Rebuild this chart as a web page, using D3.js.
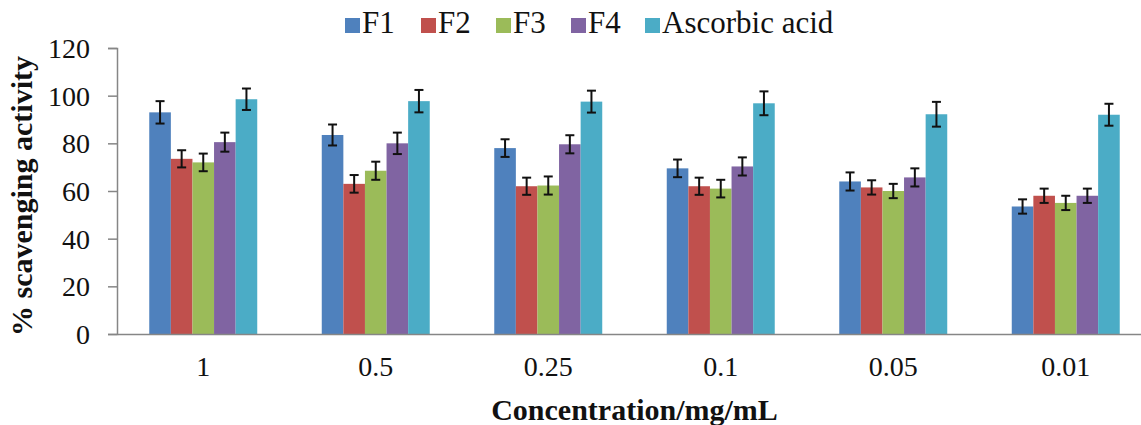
<!DOCTYPE html>
<html>
<head>
<meta charset="utf-8">
<script src="https://cdn.jsdelivr.net/npm/d3@7"></script>
<style>
  html, body { margin: 0; padding: 0; background: #fff; }
  svg { display: block; }
</style>
</head>
<body>
<svg id="chart" width="1141" height="425"></svg>
<script>
// Concentration groups along the x axis
const concentrations = ["1", "0.5", "0.25", "0.1", "0.05", "0.01"];

// Series names and colours (Excel 2007 palette)
const seriesNames = ["F1", "F2", "F3", "F4", "Ascorbic acid"];
const seriesColors = ["#4F81BD", "#C0504D", "#9BBB59", "#8064A2", "#4BACC6"];

// % scavenging activity, one array per series
const f1Values = [93, 83.5, 78, 69.5, 64, 53.5];
const f2Values = [73.5, 63, 62, 62, 61.5, 58];
const f3Values = [72, 68.5, 62.3, 61, 60, 55];
const f4Values = [80.5, 80, 79.6, 70.3, 65.7, 58];
const ascValues = [98.5, 97.7, 97.5, 96.8, 92.2, 92];

// Error bar half-widths
const f1Errors = [4.7, 4.4, 3.7, 3.7, 3.8, 3];
const f2Errors = [3.6, 3.7, 3.6, 3.6, 3, 3];
const f3Errors = [3.7, 3.8, 3.8, 3.7, 3, 3];
const f4Errors = [4, 4.5, 3.8, 3.8, 3.8, 3];
const ascErrors = [4.5, 4.7, 4.6, 5, 5.2, 4.6];

// Y axis ticks
const yTicks = [0, 20, 40, 60, 80, 100, 120];

const allValues = [f1Values, f2Values, f3Values, f4Values, ascValues];
const allErrors = [f1Errors, f2Errors, f3Errors, f4Errors, ascErrors];

const svg = d3.select("#chart");
const margin = { left: 117, top: 48, bottom: 334 };
const plotRight = 1152; // plot area runs slightly past the picture edge

const x0 = d3.scaleBand()
    .domain(concentrations)
    .range([margin.left, plotRight])
    .paddingInner(0.374)
    .paddingOuter(0.187);

const x1 = d3.scaleBand()
    .domain(seriesNames)
    .range([0, x0.bandwidth()]);

const y = d3.scaleLinear()
    .domain([0, 120])
    .range([margin.bottom, margin.top]);

const serif = "'Liberation Serif', 'Times New Roman', serif";
const axisColor = "#868686";

// Bars and error bars
const rows = [];
concentrations.forEach((c, i) => {
    seriesNames.forEach((s, j) => {
        rows.push({ conc: c, series: s, color: seriesColors[j], value: allValues[j][i], err: allErrors[j][i] });
    });
});

const bars = svg.append("g").attr("class", "bars");
bars.selectAll("rect")
    .data(rows)
    .join("rect")
    .attr("x", d => x0(d.conc) + x1(d.series))
    .attr("y", d => y(d.value))
    .attr("width", x1.bandwidth())
    .attr("height", d => y(0) - y(d.value))
    .attr("fill", d => d.color);

const capHalf = 4.5;
const errs = svg.append("g").attr("class", "errors")
    .attr("stroke", "#111")
    .attr("stroke-width", 2)
    .attr("fill", "none");

rows.forEach(d => {
    const cx = x0(d.conc) + x1(d.series) + x1.bandwidth() / 2;
    const yTop = y(d.value + d.err);
    const yBot = y(d.value - d.err);
    errs.append("line").attr("x1", cx).attr("x2", cx).attr("y1", yTop).attr("y2", yBot);
    errs.append("line").attr("x1", cx - capHalf).attr("x2", cx + capHalf).attr("y1", yTop).attr("y2", yTop);
    errs.append("line").attr("x1", cx - capHalf).attr("x2", cx + capHalf).attr("y1", yBot).attr("y2", yBot);
});

// Y axis
const yAxis = svg.append("g")
    .attr("transform", `translate(${margin.left},0)`)
    .call(d3.axisLeft(y).tickValues(yTicks).tickSize(9).tickSizeOuter(9).tickPadding(18));
yAxis.selectAll("path, line").attr("stroke", axisColor).attr("stroke-width", 1.5);
yAxis.selectAll("text")
    .attr("font-family", serif)
    .attr("font-size", 28)
    .attr("fill", "#111")
    .attr("dy", "0.34em");

// X axis (no tick marks)
const xAxis = svg.append("g")
    .attr("transform", `translate(0,${margin.bottom})`)
    .call(d3.axisBottom(x0).tickSize(0).tickPadding(22));
xAxis.select(".domain").attr("stroke", axisColor).attr("stroke-width", 1.5);
xAxis.selectAll("text")
    .attr("font-family", serif)
    .attr("font-size", 28)
    .attr("fill", "#111");

// Axis titles
svg.append("text")
    .attr("x", (margin.left + plotRight) / 2)
    .attr("y", 420)
    .attr("text-anchor", "middle")
    .attr("font-family", serif)
    .attr("font-weight", "bold")
    .attr("font-size", 30)
    .attr("fill", "#111")
    .text("Concentration/mg/mL");

svg.append("text")
    .attr("transform", "translate(32,196) rotate(-90)")
    .attr("text-anchor", "middle")
    .attr("font-family", serif)
    .attr("font-weight", "bold")
    .attr("font-size", 30)
    .attr("fill", "#111")
    .text("% scavenging activity");

// Legend
const legendX = [345, 421, 496, 571, 645];
const legend = svg.append("g").attr("class", "legend");
seriesNames.forEach((s, j) => {
    const g = legend.append("g").attr("transform", `translate(${legendX[j]},0)`);
    g.append("rect")
        .attr("x", 0).attr("y", 18)
        .attr("width", 15).attr("height", 15)
        .attr("fill", seriesColors[j]);
    g.append("text")
        .attr("x", 17).attr("y", 33)
        .attr("font-family", serif)
        .attr("font-size", 31)
        .attr("fill", "#111")
        .text(s);
});
</script>
</body>
</html>
